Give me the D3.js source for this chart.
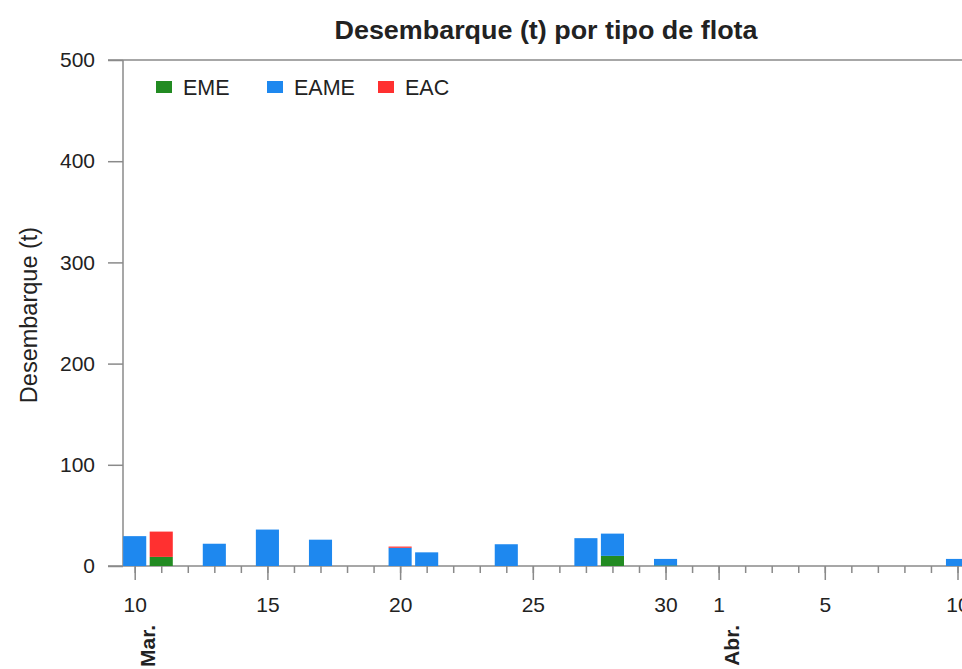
<!DOCTYPE html>
<html>
<head>
<meta charset="utf-8">
<script src="https://cdn.jsdelivr.net/npm/d3@7"></script>
<style>
  body { margin: 0; background: #fff; }
  svg { font-family: "Liberation Sans", Arial, sans-serif; }
</style>
</head>
<body>
<svg width="962" height="669"></svg>
<script>
'use strict';

// landings per day (t), one entry per day with data
var days = ['2023-03-10', '2023-03-11', '2023-03-13', '2023-03-15', '2023-03-17',
            '2023-03-20', '2023-03-21', '2023-03-24', '2023-03-27', '2023-03-28',
            '2023-03-30', '2023-04-10'];
var eme  = [0, 9, 0, 0, 0, 0, 0, 0, 0, 10, 0.5, 0];
var eame = [29.5, 0, 22, 36, 26, 18, 13.5, 21.5, 27.5, 22, 6.5, 7];
var eac  = [0, 25, 0, 0, 0, 1.2, 0, 0, 0, 0, 0, 0];

var fleets = ['EME', 'EAME', 'EAC'];
var colors = ['#228b22', '#1e88ef', '#ff3030'];

var yTicks = [0, 100, 200, 300, 400, 500];
var majorDays = ['2023-03-10', '2023-03-15', '2023-03-20', '2023-03-25', '2023-03-30',
                 '2023-04-01', '2023-04-05', '2023-04-10'];
var monthLabels = [['2023-03-10', 'Mar.'], ['2023-04-01', 'Abr.']];

var parse = d3.utcParse('%Y-%m-%d');
var svg = d3.select('svg');

var x = d3.scaleUtc()
    .domain([parse('2023-03-10'), parse('2023-04-10')])
    .range([134.7, 957.5]);
var y = d3.scaleLinear().domain([0, 500]).range([566, 60]);
var dayW = x(parse('2023-03-11')) - x(parse('2023-03-10'));
var barW = dayW * 0.87;

var rows = days.map(function (d, i) {
    return { date: parse(d), EME: eme[i], EAME: eame[i], EAC: eac[i] };
});
var stacked = d3.stack().keys(fleets)(rows);

var axisColor = '#8a8a8a';
var textColor = '#222';

// frame lines
svg.append('line')
    .attr('x1', 108).attr('x2', 962)
    .attr('y1', y(500)).attr('y2', y(500))
    .attr('stroke', axisColor).attr('stroke-width', 1.5);
svg.append('line')
    .attr('x1', 108).attr('x2', 962)
    .attr('y1', y(0)).attr('y2', y(0))
    .attr('stroke', axisColor).attr('stroke-width', 1.5);
svg.append('line')
    .attr('x1', 123).attr('x2', 123)
    .attr('y1', y(500)).attr('y2', y(0))
    .attr('stroke', axisColor).attr('stroke-width', 1.5);

// bars
svg.append('g')
    .selectAll('g')
    .data(stacked)
    .enter().append('g')
    .attr('fill', function (d, i) { return colors[i]; })
    .selectAll('rect')
    .data(function (d) { return d; })
    .enter().append('rect')
    .attr('x', function (d) { return x(d.data.date) - barW / 2; })
    .attr('width', barW)
    .attr('y', function (d) { return y(d[1]); })
    .attr('height', function (d) { return y(d[0]) - y(d[1]); });

// y axis
var yAxis = svg.append('g')
    .attr('transform', 'translate(123,0)')
    .call(d3.axisLeft(y).tickValues(yTicks).tickSize(15).tickPadding(13));
yAxis.select('.domain').remove();
yAxis.selectAll('line').attr('stroke', axisColor).attr('stroke-width', 1.5);
yAxis.selectAll('text')
    .attr('fill', textColor)
    .style('font-size', '21px')
    .style('font-family', '"Liberation Sans", Arial, sans-serif');

// x axis: minor ticks every day
var minor = svg.append('g')
    .attr('transform', 'translate(0,' + y(0) + ')')
    .call(d3.axisBottom(x).ticks(d3.utcDay.every(1)).tickSize(7).tickFormat(''));
minor.select('.domain').remove();
minor.selectAll('line').attr('stroke', axisColor).attr('stroke-width', 1.5);

// x axis: major ticks with labels
var major = svg.append('g')
    .attr('transform', 'translate(0,' + y(0) + ')')
    .call(d3.axisBottom(x)
        .tickValues(majorDays.map(parse))
        .tickSize(14)
        .tickPadding(17)
        .tickFormat(d3.utcFormat('%-d')));
major.select('.domain').remove();
major.selectAll('line').attr('stroke', axisColor).attr('stroke-width', 1.5);
major.selectAll('text')
    .attr('fill', textColor)
    .style('font-size', '21px')
    .style('font-family', '"Liberation Sans", Arial, sans-serif');

// month labels
svg.append('g')
    .selectAll('text')
    .data(monthLabels)
    .enter().append('text')
    .attr('transform', function (d) {
        return 'translate(' + (x(parse(d[0])) + 20) + ',625) rotate(-90)';
    })
    .attr('text-anchor', 'end')
    .attr('fill', textColor)
    .style('font-size', '21px')
    .style('font-weight', 'bold')
    .text(function (d) { return d[1]; });

// title
svg.append('text')
    .attr('x', 546).attr('y', 39)
    .attr('text-anchor', 'middle')
    .attr('fill', textColor)
    .attr('textLength', 423)
    .attr('lengthAdjust', 'spacingAndGlyphs')
    .style('font-size', '25px')
    .style('font-weight', 'bold')
    .text('Desembarque (t) por tipo de flota');

// y label
svg.append('text')
    .attr('transform', 'translate(37,315) rotate(-90)')
    .attr('text-anchor', 'middle')
    .attr('fill', textColor)
    .style('font-size', '23.5px')
    .text('Desembarque (t)');

// legend
var legendX = [156, 267, 378];
var legend = svg.append('g')
    .selectAll('g')
    .data(fleets)
    .enter().append('g')
    .attr('transform', function (d, i) { return 'translate(' + legendX[i] + ',81)'; });
legend.append('rect')
    .attr('width', 16).attr('height', 12)
    .attr('fill', function (d, i) { return colors[i]; });
legend.append('text')
    .attr('x', 27).attr('y', 14)
    .attr('fill', textColor)
    .style('font-size', '21.5px')
    .text(function (d) { return d; });
</script>
</body>
</html>
